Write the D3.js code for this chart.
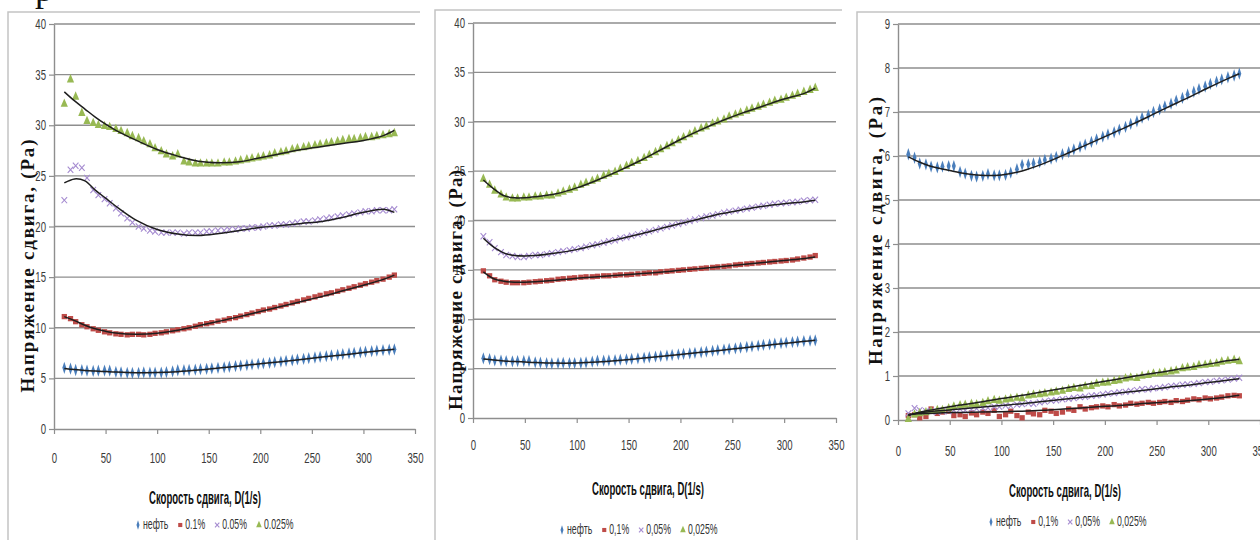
<!DOCTYPE html>
<html><head><meta charset="utf-8">
<script src="https://cdn.jsdelivr.net/npm/d3@7"></script>
<style>body{margin:0;background:#fff}svg{display:block}</style>
</head><body>
<svg id="c" width="1260" height="540"></svg>
<script>
// ---------- data ----------
const shearRate = [10,16,21,27,32,38,43,49,54,60,65,71,76,82,87,93,98,104,109,115,120,126,131,137,142,148,153,159,165,170,176,181,187,192,198,203,209,214,220,225,231,236,242,247,253,258,264,269,275,280,286,291,297,302,308,313,319,325,330];
const fitRate = [10,20,30,40,50,60,80,100,120,140,160,180,200,220,240,260,280,300,320,330];

const xTicks = [0,50,100,150,200,250,300,350];
const yTicks40 = [0,5,10,15,20,25,30,35,40];
const yTicks9 = [0,1,2,3,4,5,6,7,8,9];

const legendDot = ['нефть','0.1%','0.05%','0.025%'];
const legendComma = ['нефть','0,1%','0,05%','0,025%'];
const xTitle = 'Скорость сдвига, D(1/s)';
const yTitle = 'Напряжение сдвига, (Pa)';

const neft = [6.04,5.96,5.83,5.81,5.76,5.74,5.76,5.77,5.77,5.64,5.6,5.55,5.53,5.55,5.59,5.56,5.56,5.57,5.62,5.7,5.8,5.81,5.83,5.86,5.91,5.94,5.98,6.04,6.09,6.15,6.21,6.26,6.32,6.38,6.44,6.49,6.54,6.6,6.66,6.73,6.79,6.87,6.93,7.0,7.06,7.13,7.19,7.26,7.32,7.4,7.46,7.52,7.58,7.64,7.69,7.74,7.79,7.83,7.87];
const neftFit = [5.98,5.87,5.78,5.72,5.67,5.62,5.56,5.57,5.66,5.82,6.02,6.23,6.44,6.65,6.87,7.1,7.32,7.55,7.77,7.87];

// panel 1
const p1Red = [11.1,10.9,10.6,10.3,10.1,9.9,9.75,9.6,9.5,9.4,9.35,9.3,9.35,9.35,9.3,9.35,9.45,9.5,9.6,9.7,9.8,9.9,10.0,10.15,10.3,10.4,10.5,10.65,10.75,10.9,11.0,11.15,11.3,11.45,11.6,11.75,11.85,12.0,12.15,12.3,12.45,12.6,12.75,12.9,13.05,13.2,13.35,13.45,13.6,13.75,13.9,14.05,14.2,14.35,14.5,14.65,14.8,15.0,15.2];
const p1Purple = [22.6,25.6,26.0,25.8,24.8,23.6,23.1,22.7,22.3,21.8,21.3,20.8,20.4,20.0,19.8,19.6,19.5,19.4,19.4,19.4,19.4,19.3,19.4,19.4,19.4,19.5,19.5,19.6,19.6,19.7,19.7,19.8,19.8,19.9,19.9,20.0,20.1,20.1,20.2,20.2,20.3,20.4,20.5,20.5,20.6,20.7,20.8,20.9,21.0,21.1,21.2,21.3,21.4,21.5,21.5,21.6,21.6,21.6,21.7];
const p1Green = [32.1,34.5,32.8,31.2,30.4,30.2,30.0,29.9,29.8,29.6,29.4,29.2,28.9,28.7,28.4,28.1,27.7,27.4,27.1,26.9,27.1,26.4,26.3,26.2,26.2,26.2,26.2,26.2,26.3,26.3,26.4,26.5,26.6,26.7,26.8,26.9,27.0,27.2,27.3,27.4,27.6,27.7,27.8,27.9,28.0,28.1,28.2,28.3,28.4,28.5,28.6,28.6,28.7,28.8,28.8,28.9,29.0,29.1,29.2];
const p1RedFit = [11.1,10.7,10.25,9.9,9.65,9.47,9.35,9.45,9.75,10.2,10.65,11.1,11.6,12.1,12.6,13.1,13.65,14.2,14.8,15.2];
const p1PurpleFit = [24.3,24.7,24.5,23.6,22.8,22.0,20.6,19.7,19.25,19.1,19.3,19.6,19.9,20.1,20.3,20.5,20.9,21.4,21.7,21.4];
const p1GreenFit = [33.3,32.4,31.6,30.8,30.1,29.5,28.5,27.6,26.95,26.45,26.3,26.4,26.8,27.2,27.6,27.9,28.2,28.5,29.0,29.5];

// panel 2
const p2Red = [14.9,14.4,14.0,13.85,13.75,13.7,13.7,13.7,13.75,13.8,13.85,13.9,13.95,14.05,14.1,14.15,14.2,14.25,14.3,14.3,14.35,14.4,14.4,14.45,14.5,14.5,14.55,14.6,14.65,14.7,14.7,14.8,14.85,14.9,14.95,15.0,15.05,15.1,15.15,15.2,15.25,15.3,15.35,15.4,15.5,15.55,15.6,15.65,15.7,15.75,15.8,15.85,15.9,15.95,16.0,16.1,16.2,16.3,16.45];
const p2Purple = [18.4,17.8,17.2,16.8,16.5,16.4,16.3,16.3,16.4,16.5,16.5,16.6,16.7,16.8,16.9,17.0,17.1,17.2,17.35,17.5,17.6,17.75,17.9,18.0,18.2,18.3,18.45,18.6,18.75,18.9,19.05,19.2,19.35,19.5,19.65,19.8,19.95,20.1,20.25,20.4,20.5,20.65,20.8,20.9,21.0,21.1,21.2,21.3,21.4,21.5,21.6,21.7,21.75,21.8,21.85,21.9,22.0,22.05,22.1];
const p2Green = [24.2,23.6,23.0,22.6,22.3,22.2,22.2,22.3,22.3,22.4,22.4,22.5,22.5,22.7,22.9,23.1,23.3,23.6,23.8,24.0,24.2,24.5,24.7,24.9,25.2,25.5,25.8,26.0,26.3,26.6,26.9,27.2,27.5,27.8,28.1,28.4,28.7,29.0,29.3,29.5,29.8,30.0,30.2,30.5,30.7,30.9,31.1,31.3,31.5,31.7,31.9,32.1,32.2,32.4,32.6,32.8,33.0,33.2,33.4];
const p2RedFit = [14.8,14.1,13.85,13.75,13.75,13.8,13.95,14.15,14.3,14.45,14.6,14.75,14.95,15.15,15.35,15.55,15.75,15.95,16.15,16.3];
const p2PurpleFit = [18.2,17.3,16.7,16.45,16.4,16.45,16.7,17.05,17.55,18.1,18.6,19.15,19.7,20.2,20.7,21.1,21.45,21.7,21.9,22.05];
const p2GreenFit = [24.1,23.2,22.5,22.3,22.3,22.4,22.7,23.3,24.1,25.0,26.0,27.1,28.2,29.2,30.1,30.9,31.6,32.3,32.9,33.4];

// panel 3
const p3Red = [0.1,0.12,0.05,0.08,0.25,0.15,0.18,0.2,0.1,0.12,0.08,0.16,0.12,0.18,0.15,0.22,0.08,0.12,0.2,0.1,0.05,0.18,0.14,0.12,0.22,0.2,0.15,0.18,0.25,0.22,0.3,0.25,0.28,0.3,0.32,0.3,0.35,0.32,0.34,0.38,0.36,0.38,0.4,0.38,0.4,0.42,0.4,0.44,0.42,0.45,0.48,0.46,0.5,0.48,0.5,0.52,0.55,0.56,0.55];
const p3Purple = [0.15,0.27,0.22,0.2,0.2,0.18,0.2,0.2,0.22,0.25,0.22,0.24,0.26,0.27,0.28,0.3,0.3,0.33,0.32,0.35,0.36,0.38,0.37,0.4,0.42,0.44,0.45,0.47,0.48,0.5,0.52,0.53,0.55,0.56,0.58,0.6,0.61,0.63,0.64,0.66,0.68,0.7,0.7,0.72,0.73,0.75,0.77,0.78,0.8,0.81,0.82,0.84,0.86,0.87,0.89,0.9,0.92,0.94,0.96];
const p3Green = [0.02,0.12,0.15,0.17,0.2,0.22,0.22,0.26,0.3,0.33,0.34,0.36,0.35,0.38,0.42,0.45,0.43,0.46,0.48,0.5,0.49,0.55,0.57,0.58,0.6,0.62,0.64,0.66,0.7,0.72,0.71,0.76,0.77,0.82,0.84,0.85,0.88,0.9,0.94,0.96,0.95,1.0,1.02,1.05,1.06,1.08,1.1,1.12,1.17,1.19,1.2,1.24,1.25,1.27,1.28,1.32,1.34,1.36,1.33];
const p3RedFit = [0.12,0.14,0.15,0.16,0.17,0.17,0.18,0.19,0.2,0.22,0.25,0.28,0.31,0.34,0.38,0.41,0.44,0.48,0.53,0.56];
const p3PurpleFit = [0.12,0.16,0.19,0.21,0.23,0.25,0.29,0.33,0.37,0.42,0.47,0.52,0.57,0.63,0.68,0.74,0.79,0.85,0.91,0.94];
const p3GreenFit = [0.1,0.17,0.22,0.26,0.3,0.34,0.41,0.49,0.56,0.64,0.72,0.8,0.88,0.96,1.04,1.11,1.19,1.27,1.35,1.38];

// ---------- styles / layout ----------
const SANS = '"Liberation Sans Narrow","Liberation Sans",Arial,sans-serif';
const SERIF = '"Liberation Serif","DejaVu Serif",serif';
const COLORS = {diamond:'#4A7EBB', square:'#BE4B48', cross:'#A58BD0', triangle:'#98B954'};
const TYPES = ['diamond','square','cross','triangle'];

const panels = [
  {frame:[8,12,420], xr:[54,415], yr:[429,24], yTicks:yTicks40, xLabDy:31, xTitle:[205,504,112], yTitle:[27,266,253], legend:[138,529], labels:legendDot,
   series:[[neft,neftFit],[p1Red,p1RedFit],[p1Purple,p1PurpleFit],[p1Green,p1GreenFit]]},
  {frame:[435,10,842], xr:[473,836], yr:[418,23], yTicks:yTicks40, xLabDy:29, xTitle:[648,495,112], yTitle:[455,290,240], legend:[562,534], labels:legendComma,
   series:[[neft,neftFit],[p2Red,p2RedFit],[p2Purple,p2PurpleFit],[p2Green,p2GreenFit]]},
  {frame:[857,12,1262], xr:[898,1260], yr:[420,24], yTicks:yTicks9, xLabDy:33, xTitle:[1065,497,112], yTitle:[875,231,268], legend:[991,526], labels:legendComma,
   series:[[neft,neftFit],[p3Red,p3RedFit],[p3Purple,p3PurpleFit],[p3Green,p3GreenFit]]}
];

const svg = d3.select('#c');

// partial glyph of text above the figure (descender of a cut-off line)
svg.append('text').attr('x',35).attr('y',1).attr('font-family',SERIF).attr('font-size',36).attr('fill','#111').text('р');

// condense text horizontally (narrow chart font)
function condense(sel, sx, sy) {
  sel.each(function () {
    const t = d3.select(this);
    const x = +t.attr('x') || 0, y = +t.attr('y') || 0;
    t.attr('x', 0).attr('y', 0).attr('transform', `translate(${x},${y}) scale(${sx},${sy})`);
  });
}

function drawMarker(g, type, x, y, s) {
  s = s || 1;
  if (type === 'diamond') {
    g.append('path').attr('d', d3.symbol(d3.symbolDiamond, 24*s)())
      .attr('transform', `translate(${x},${y}) scale(0.75,1.35)`).attr('fill', COLORS.diamond);
  } else if (type === 'square') {
    g.append('path').attr('d', d3.symbol(d3.symbolSquare, 28*s)())
      .attr('transform', `translate(${x},${y})`).attr('fill', COLORS.square);
  } else if (type === 'triangle') {
    g.append('path').attr('d', d3.symbol(d3.symbolTriangle, 28*s)())
      .attr('transform', `translate(${x},${y}) scale(0.9,1.2)`).attr('fill', COLORS.triangle);
  } else {
    const r = 2.8*Math.sqrt(s);
    const p = d3.path();
    p.moveTo(-r,-r*1.1); p.lineTo(r,r*1.1); p.moveTo(-r,r*1.1); p.lineTo(r,-r*1.1);
    g.append('path').attr('d', p.toString()).attr('transform', `translate(${x},${y})`)
      .attr('fill','none').attr('stroke', COLORS.cross).attr('stroke-width',1.1);
  }
}

panels.forEach(P => {
  const g = svg.append('g');
  const [fx, fy, fr] = P.frame;
  g.append('path').attr('d', `M${fx},545V${fy}H${fr}`).attr('fill','none').attr('stroke','#c4c4c4').attr('stroke-width',1.5);

  const yMax = P.yTicks[P.yTicks.length-1];
  const x = d3.scaleLinear().domain([0,350]).range(P.xr);
  const y = d3.scaleLinear().domain([0,yMax]).range(P.yr);

  // gridlines
  g.append('g').selectAll('line').data(P.yTicks.filter(t => t > 0)).join('line')
    .attr('x1', x(0)).attr('x2', x(350)).attr('y1', d => y(d)).attr('y2', d => y(d))
    .attr('stroke','#8e8e8e').attr('stroke-width',1.4);

  // axes
  const ya = g.append('g').attr('transform', `translate(${x(0)},0)`)
    .call(d3.axisLeft(y).tickValues(P.yTicks).tickSize(5).tickSizeOuter(0).tickPadding(3));
  const xa = g.append('g').attr('transform', `translate(0,${y(0)})`)
    .call(d3.axisBottom(x).tickValues(xTicks).tickSize(5).tickSizeOuter(0).tickPadding(P.xLabDy-12));
  [ya, xa].forEach(a => {
    a.select('.domain').attr('stroke','#8e8e8e').attr('stroke-width',1.4);
    a.selectAll('.tick line').attr('stroke','#8e8e8e').attr('stroke-width',1.2);
    a.selectAll('.tick text').attr('font-family',SANS).attr('font-size',12).attr('fill','#3a3a3a');
  });
  condense(ya.selectAll('.tick text'), 0.8, 1.2);
  condense(xa.selectAll('.tick text'), 0.8, 1.2);

  // markers
  P.series.forEach((s, i) => {
    const sg = g.append('g');
    s[0].forEach((v, k) => drawMarker(sg, TYPES[i], x(shearRate[k]), y(v)));
  });
  // trend lines
  const line = d3.line().x((d, k) => x(fitRate[k])).y(d => y(d)).curve(d3.curveCatmullRom);
  P.series.forEach(s => {
    g.append('path').attr('d', line(s[1])).attr('fill','none').attr('stroke','#1e1e1e').attr('stroke-width',1.5);
  });

  // titles
  g.append('text').attr('x', P.xTitle[0]).attr('y', P.xTitle[1]).attr('text-anchor','middle')
    .attr('font-family',SANS).attr('font-weight','bold').attr('font-size',19).attr('fill','#111')
    .attr('textLength', P.xTitle[2]).attr('lengthAdjust','spacingAndGlyphs').text(xTitle);
  g.append('text').attr('transform', `translate(${P.yTitle[0]},${P.yTitle[1]}) rotate(-90)`).attr('text-anchor','middle')
    .attr('dy','0.35em').attr('font-family',SERIF).attr('font-weight','bold').attr('font-size',19).attr('fill','#111')
    .attr('textLength', P.yTitle[2]).attr('lengthAdjust','spacing').text(yTitle);

  // legend
  const lg = g.append('g');
  let cx = P.legend[0];
  P.labels.forEach((lab, i) => {
    drawMarker(lg, TYPES[i], cx, P.legend[1]-4, 0.6);
    const t = lg.append('text').attr('x', cx+5).attr('y', P.legend[1]).attr('font-family',SANS)
      .attr('font-size',11.5).attr('fill','#333').text(lab);
    const w = t.node().getComputedTextLength() * 0.76;
    condense(t, 0.76, 1.2);
    cx += 5 + w + 12;
  });
});
</script>
</body></html>
